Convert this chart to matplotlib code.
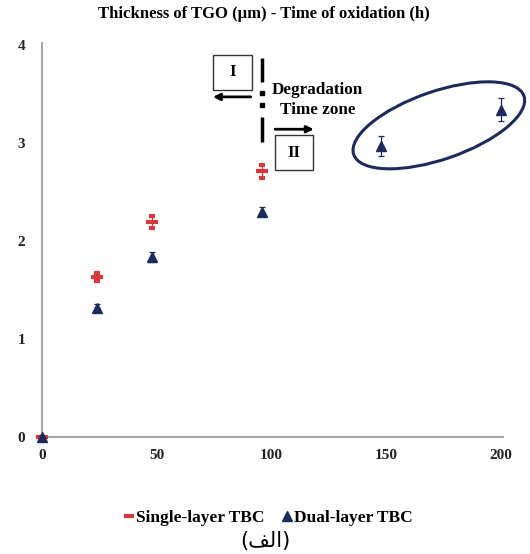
import matplotlib
matplotlib.use("Agg")
import matplotlib.pyplot as plt
from matplotlib.patches import Rectangle, Ellipse
from matplotlib.transforms import IdentityTransform, ScaledTranslation
from matplotlib.lines import Line2D

# Oxidation time (h) and TGO thickness (µm)
single_time = [0, 24, 48, 96]
single_thick = [0.0, 1.63, 2.19, 2.71]
single_err = [0.0, 0.04, 0.06, 0.07]

dual_time = [0, 24, 48, 96, 148, 200]
dual_thick = [0.0, 1.32, 1.84, 2.30, 2.97, 3.34]
dual_err = [0.0, 0.04, 0.05, 0.05, 0.10, 0.12]

x_ticks = [0, 50, 100, 150, 200]
y_ticks = [0, 1, 2, 3, 4]

title = "Thickness of TGO (\u00b5m) - Time of oxidation (h)"
series_names = ["Single-layer TBC", "Dual-layer TBC"]
zone_names = ["I", "II"]
# "(الف)" written in visual order with Arabic presentation forms
caption = "(\ufed2\ufedf\ufe8d)"

RED = "#d8383c"
NAVY = "#1d2a5c"
SERIF = "Liberation Serif"

fig = plt.figure(figsize=(5.30, 5.54), dpi=100)
ax = fig.add_axes([0.0792, 0.2112, 0.870, 0.7112])

ax.errorbar(single_time, single_thick, yerr=single_err, fmt="_", color=RED,
            ecolor=RED, elinewidth=0.9, capsize=2.5, capthick=0.9,
            markersize=9, markeredgewidth=3.0, zorder=3, clip_on=False)
ax.errorbar(dual_time, dual_thick, yerr=dual_err, fmt="^", color=NAVY,
            ecolor=NAVY, elinewidth=0.9, capsize=2.5, capthick=0.9,
            markersize=6.5, zorder=4, clip_on=False)

ax.set_xlim(0, 201)
ax.set_ylim(0, 4.02)
ax.set_xticks(x_ticks)
ax.set_yticks(y_ticks)
for side in ("top", "right"):
    ax.spines[side].set_visible(False)
for side in ("left", "bottom"):
    ax.spines[side].set_color("#a6a6a6")
    ax.spines[side].set_linewidth(1.5)
ax.tick_params(length=0, pad=12)
for lab in ax.get_xticklabels() + ax.get_yticklabels():
    lab.set_fontfamily(SERIF)
    lab.set_fontweight("bold")
    lab.set_fontsize(11)
    lab.set_color("#222222")
ax.tick_params(axis="x", pad=9)

fig.text(0.497, 1 - 14 / 554, title, ha="center", va="center",
         fontfamily=SERIF, fontweight="bold", fontsize=12)

# Degradation divider at 96 h
div_x = 96
for y0, y1 in [(3.62, 3.87), (3.01, 3.26)]:
    ax.plot([div_x, div_x], [y0, y1], color="black", lw=2.5,
            solid_capstyle="butt", zorder=5)
for yd in (3.51, 3.39):
    ax.plot([div_x], [yd], marker="s", color="black", markersize=2.5, zorder=5)

ax.text(120.2, 3.54, "Degradation", ha="center", va="center",
        fontfamily=SERIF, fontweight="bold", fontsize=12.3)
ax.text(120.2, 3.34, "Time zone", ha="center", va="center",
        fontfamily=SERIF, fontweight="bold", fontsize=12.3)

# Zone boxes
ax.add_patch(Rectangle((74.5, 3.54), 17.0, 0.36, fill=False,
                       edgecolor="#333333", lw=1.0, zorder=5))
ax.text(83.0, 3.72, zone_names[0], ha="center", va="center",
        fontfamily=SERIF, fontweight="bold", fontsize=12)
ax.add_patch(Rectangle((101.6, 2.72), 16.6, 0.36, fill=False,
                       edgecolor="#333333", lw=1.0, zorder=5))
ax.text(109.9, 2.90, zone_names[1], ha="center", va="center",
        fontfamily=SERIF, fontweight="bold", fontsize=12)

# Direction arrows
ax.annotate("", xy=(74.5, 3.47), xytext=(91.0, 3.47),
            arrowprops=dict(arrowstyle="-|>", color="black", lw=2,
                            mutation_scale=10, shrinkA=0, shrinkB=0))
ax.annotate("", xy=(118.5, 3.14), xytext=(101.6, 3.14),
            arrowprops=dict(arrowstyle="-|>", color="black", lw=2,
                            mutation_scale=10, shrinkA=0, shrinkB=0))

# Ellipse around the long-exposure dual-layer points (pixel-sized, data-centred)
ell = Ellipse((0, 0), 180, 68, angle=19, fill=False, edgecolor=NAVY, lw=2.2,
              transform=IdentityTransform() + ScaledTranslation(173, 3.18, ax.transData),
              zorder=5, clip_on=False)
ax.add_patch(ell)

handles = [
    Line2D([], [], linestyle="none", marker="_", color=RED, markersize=7,
           markeredgewidth=3.0),
    Line2D([], [], linestyle="none", marker="^", color=NAVY, markersize=7),
]
fig.legend(handles, series_names, loc="center", bbox_to_anchor=(0.505, 1 - 518 / 554),
           ncol=2, frameon=False, handletextpad=0.0, columnspacing=0.9,
           handlelength=0.8, prop=dict(family=SERIF, weight="bold", size=12.5))

fig.text(0.5, 1 - 541 / 554, caption, ha="center", va="center",
         fontfamily="DejaVu Sans", fontsize=15)

fig.savefig("out.png", dpi=100)
